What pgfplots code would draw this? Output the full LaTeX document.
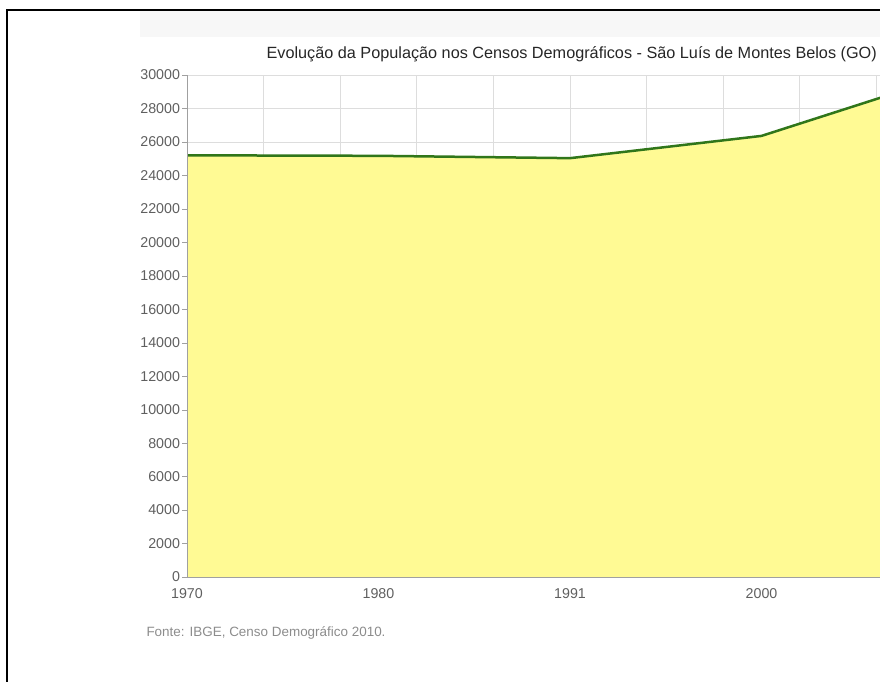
\documentclass[border=0pt]{standalone}
\usepackage{pgfplots}
\pgfplotsset{compat=1.18}
\usepackage{fontspec}
\setmainfont{Liberation Sans}
\definecolor{areafill}{RGB}{255,250,148}
\definecolor{linegreen}{RGB}{48,118,26}
\definecolor{gridc}{RGB}{221,221,221}
\definecolor{axisc}{RGB}{160,160,160}
\definecolor{tickc}{RGB}{95,95,95}
\begin{document}
\begin{tikzpicture}
\path[use as bounding box] (0bp,0bp) rectangle (880bp,682bp);
\fill[black!3] (140bp,645bp) rectangle (880bp,671bp);
\draw[black, line width=1.8bp] (7bp,0bp) -- (7bp,672bp) -- (880bp,672bp);
\node[anchor=east, inner sep=0pt, font=\fontsize{16.3}{19}\selectfont, text=black!85] at (877bp,628bp) {Evolução da População nos Censos Demográficos - São Luís de Montes Belos (GO)};
\node[anchor=west, font=\fontsize{13.5}{16}\selectfont, text=black!45] at (143bp,49bp) {Fonte: IBGE, Censo Demográfico 2010.};
\begin{axis}[
  at={(187bp,105bp)}, anchor=south west,
  scale only axis, width=693bp, height=502bp,
  xmin=0, xmax=3.6188, ymin=0, ymax=30000,
  axis x line=bottom, axis y line=left,
  axis line style={draw=axisc, -},
  xtick={0,1,2,3}, xticklabels={1970,1980,1991,2000},
  minor xtick={0,0.4,0.8,1.2,1.6,2.0,2.4,2.8,3.2,3.6},
  xminorgrids=true, xmajorgrids=false,
  minor grid style={gridc, line width=0.8bp},
  ytick={0,2000,...,30000}, ymajorgrids=true,
  major grid style={gridc, line width=0.8bp},
  x tick style={draw=none},
  y tick style={draw=axisc},
  tick align=outside, major tick length=5bp, minor tick length=0pt,
  scaled y ticks=false,
  /pgf/number format/set thousands separator={},
  /pgf/number format/assume math mode=true,
  tick label style={font=\fontsize{14.3}{16}\selectfont, text=tickc},
  yticklabel style={xshift=1.5bp},
  xticklabel style={yshift=-3bp},
  clip=true,
]
\addplot[fill=areafill, draw=none] coordinates {(0,25200) (1,25170) (2,25030) (3,26360) (4,30034)} \closedcycle;
\addplot[linegreen, line width=2.5bp] coordinates {(0,25200) (1,25170) (2,25030) (3,26360) (4,30034)};
\draw[axisc, line width=0.8bp] (axis cs:0,0) -- (axis cs:0,30000);
\draw[axisc, line width=0.8bp] (axis cs:0,0) -- (axis cs:3.6188,0);
\end{axis}
\end{tikzpicture}
\end{document}
